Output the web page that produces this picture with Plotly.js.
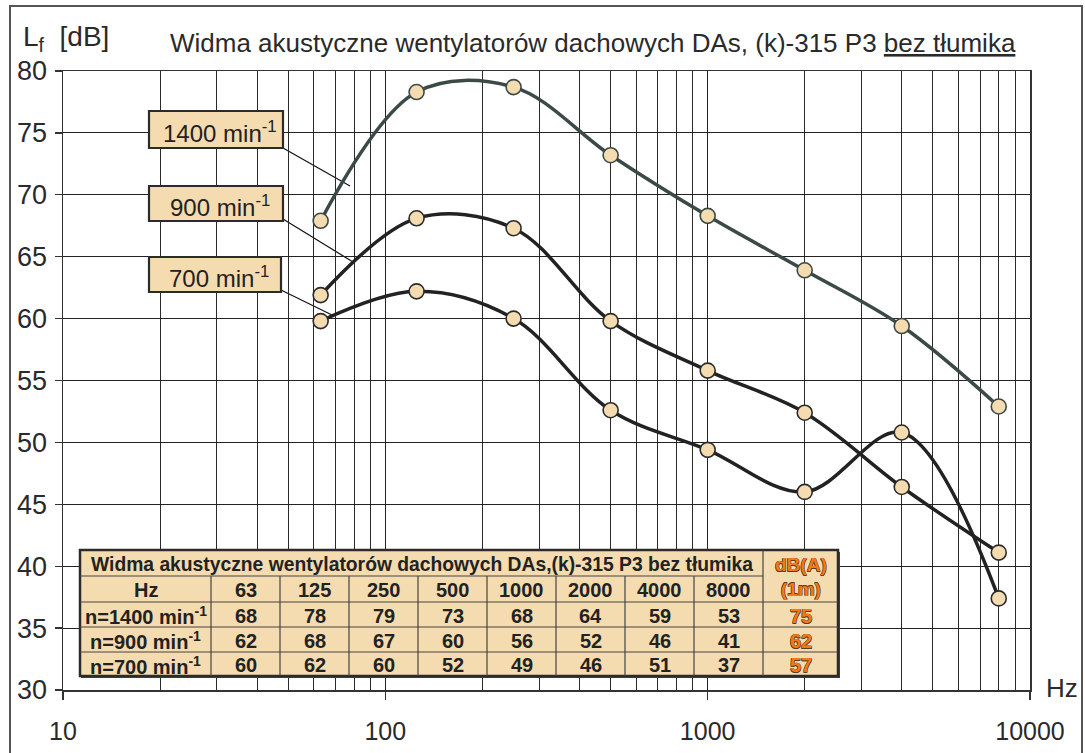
<!DOCTYPE html>
<html>
<head>
<meta charset="utf-8">
<script src="https://cdn.plot.ly/plotly-3.0.1.min.js"></script>
<style>html,body{margin:0;padding:0;background:#fff;}#chart{width:1085px;height:753px;}</style>
</head>
<body>
<div id="chart"></div>
<script>
// ---- data ----
const freqs = [63, 125, 250, 500, 1000, 2000, 4000, 8000];
const series1400 = [67.9, 78.3, 78.7, 73.2, 68.3, 63.9, 59.4, 52.9];
const series900  = [61.9, 68.1, 67.3, 59.8, 55.8, 52.4, 46.4, 41.1];
const series700  = [59.8, 62.2, 60.0, 52.6, 49.4, 46.0, 50.8, 37.4];
const seriesLabels = ['1400 min<sup>-1</sup>', '900 min<sup>-1</sup>', '700 min<sup>-1</sup>'];

const tableTitle = 'Widma akustyczne wentylatorów dachowych DAs,(k)-315 P3 bez tłumika';
const tableFreqLabels = ['63', '125', '250', '500', '1000', '2000', '4000', '8000'];
const tableRowLabels = ['n=1400 min<sup>-1</sup>', 'n=900 min<sup>-1</sup>', 'n=700 min<sup>-1</sup>'];
const table1400 = [68, 78, 79, 73, 68, 64, 59, 53];
const table900  = [62, 68, 67, 60, 56, 52, 46, 41];
const table700  = [60, 62, 60, 52, 49, 46, 51, 37];
const tableDBA  = [75, 62, 57];

const xTickVals = [10, 100, 1000, 10000];
const xTickText = ['10', '100', '1000', '10000'];
const xMinorVals = [20,30,40,50,60,70,80,90,200,300,400,500,600,700,800,900,2000,3000,4000,5000,6000,7000,8000,9000];
const yTickVals = [30, 35, 40, 45, 50, 55, 60, 65, 70, 75, 80];

// ---- layout helpers (pixel -> paper) ----
const PL = 63, PR = 1030, PT = 71, PB = 690;
const W = PR - PL, H = PB - PT;
const px = x => (x - PL) / W;
const py = y => (PB - y) / H;

const FONT = 'Liberation Sans, Arial, Helvetica, sans-serif';
const WHEAT = '#f4dcb0';
const DARK = '#2b2b2b';

const markerStyle = {size: 15, color: WHEAT, line: {color: DARK, width: 1.6}};

const traces = [
  {x: freqs, y: series1400, mode: 'lines+markers', line: {color: '#3c4a47', width: 3.5, shape: 'spline', smoothing: 1.0}, marker: Object.assign({}, markerStyle, {line: {color: '#3c4a47', width: 1.6}}), hoverinfo: 'x+y'},
  {x: freqs, y: series900, mode: 'lines+markers', line: {color: '#222', width: 3.5, shape: 'spline', smoothing: 1.0}, marker: markerStyle, hoverinfo: 'x+y'},
  {x: freqs, y: series700, mode: 'lines+markers', line: {color: '#222', width: 3.5, shape: 'spline', smoothing: 1.0}, marker: markerStyle, hoverinfo: 'x+y'}
];

const shapes = [];
const annotations = [];

// outer frame
shapes.push({type: 'rect', xref: 'paper', yref: 'paper', x0: px(10), x1: px(1082), y0: py(760), y1: py(6), line: {color: '#555', width: 2}, fillcolor: 'rgba(0,0,0,0)', layer: 'below'});

// label boxes + leader lines
const boxes = [
  {x0: 149, x1: 283, y0: 111, y1: 148, lx0: 283, ly0: 148, lx1: 350, ly1: 186},
  {x0: 149, x1: 283, y0: 186, y1: 221, lx0: 283, ly0: 219, lx1: 353, ly1: 262},
  {x0: 149, x1: 281, y0: 257, y1: 292, lx0: 281, ly0: 290, lx1: 332, ly1: 315}
];
boxes.forEach((b, i) => {
  shapes.push({type: 'line', xref: 'paper', yref: 'paper', x0: px(b.lx0), y0: py(b.ly0), x1: px(b.lx1), y1: py(b.ly1), line: {color: '#111', width: 1.2}, layer: 'below'});
  shapes.push({type: 'rect', xref: 'paper', yref: 'paper', x0: px(b.x0), x1: px(b.x1), y0: py(b.y1), y1: py(b.y0), fillcolor: WHEAT, line: {color: DARK, width: 2.2}});
  annotations.push({xref: 'paper', yref: 'paper', x: px((b.x0 + b.x1) / 2 + 4), y: py((b.y0 + b.y1) / 2 + 2), text: seriesLabels[i], showarrow: false, font: {family: FONT, size: 24, color: '#222'}, xanchor: 'center', yanchor: 'middle'});
});

// table
const colE = [80, 211, 280, 349, 418, 487, 556, 625, 694, 763, 838];
const rowE = [550, 576, 602, 627, 652, 676];
shapes.push({type: 'rect', xref: 'paper', yref: 'paper', x0: px(81), x1: px(840), y0: py(678), y1: py(552), fillcolor: '#444', line: {width: 0}});
shapes.push({type: 'rect', xref: 'paper', yref: 'paper', x0: px(colE[0]), x1: px(colE[10]), y0: py(rowE[5]), y1: py(rowE[0]), fillcolor: WHEAT, line: {color: DARK, width: 2.5}});
shapes.push({type: 'line', xref: 'paper', yref: 'paper', x0: px(colE[0]), x1: px(colE[9]), y0: py(rowE[1]), y1: py(rowE[1]), line: {color: '#444', width: 1.2}});
[2, 3, 4].forEach(r => shapes.push({type: 'line', xref: 'paper', yref: 'paper', x0: px(colE[0]), x1: px(colE[10]), y0: py(rowE[r]), y1: py(rowE[r]), line: {color: '#444', width: 1.2}}));
for (let c = 1; c <= 8; c++) shapes.push({type: 'line', xref: 'paper', yref: 'paper', x0: px(colE[c]), x1: px(colE[c]), y0: py(rowE[1]), y1: py(rowE[5]), line: {color: '#444', width: 1.2}});
shapes.push({type: 'line', xref: 'paper', yref: 'paper', x0: px(colE[9]), x1: px(colE[9]), y0: py(rowE[0]), y1: py(rowE[5]), line: {color: '#444', width: 1.2}});

const cellFont = {family: FONT, size: 20, color: '#222', weight: 'bold'};
const orangeFont = {family: FONT, size: 20, color: '#f07a18', weight: 'bold', shadow: '-0.5px -0.5px 0 #5a3a20, 0.5px -0.5px 0 #5a3a20, -0.5px 0.5px 0 #5a3a20, 0.5px 0.5px 0 #5a3a20'};
function cell(c0, c1, r0, r1, text, font) {
  annotations.push({xref: 'paper', yref: 'paper', x: px((colE[c0] + colE[c1]) / 2), y: py((rowE[r0] + rowE[r1]) / 2 + 1), text: '<b>' + text + '</b>', showarrow: false, font: font, xanchor: 'center', yanchor: 'middle'});
}
cell(0, 9, 0, 1, tableTitle, Object.assign({}, cellFont, {size: 19.3}));
cell(9, 10, 0, 2, 'dB(A)<br>(1m)', Object.assign({}, orangeFont, {size: 19}));
cell(0, 1, 1, 2, 'Hz', cellFont);
tableFreqLabels.forEach((f, i) => cell(i + 1, i + 2, 1, 2, f, cellFont));
const tableRows = [table1400, table900, table700];
tableRows.forEach((row, r) => {
  cell(0, 1, r + 2, r + 3, tableRowLabels[r], cellFont);
  row.forEach((v, i) => cell(i + 1, i + 2, r + 2, r + 3, String(v), cellFont));
  cell(9, 10, r + 2, r + 3, String(tableDBA[r]), orangeFont);
});

// titles
annotations.push({xref: 'paper', yref: 'paper', x: px(593), y: py(43), text: 'Widma akustyczne wentylatorów dachowych DAs, (k)-315 P3 <u>bez tłumika</u>', showarrow: false, font: {family: FONT, size: 26, color: '#2a2a2a'}, xanchor: 'center', yanchor: 'middle'});
annotations.push({xref: 'paper', yref: 'paper', x: px(21), y: py(39), text: 'L<sub>f</sub>  [dB]', showarrow: false, font: {family: FONT, size: 28, color: '#2a2a2a'}, xanchor: 'left', yanchor: 'middle'});
annotations.push({xref: 'paper', yref: 'paper', x: px(1044), y: py(688), text: 'Hz', showarrow: false, font: {family: FONT, size: 26, color: '#2a2a2a'}, xanchor: 'left', yanchor: 'middle'});

const layout = {
  width: 1085, height: 753,
  margin: {l: PL, r: 1085 - PR, t: PT, b: 753 - PB},
  paper_bgcolor: '#fff', plot_bgcolor: '#fff',
  showlegend: false,
  font: {family: FONT, color: '#2a2a2a'},
  xaxis: {
    type: 'log', range: [1, 4], tickmode: 'array', tickvals: xTickVals, ticktext: xTickText,
    ticks: 'outside', ticklen: 8, tickwidth: 1.2, tickcolor: '#333',
    showgrid: true, gridcolor: '#222', gridwidth: 1,
    showline: true, linecolor: '#333', linewidth: 1.5, mirror: true,
    tickfont: {family: FONT, size: 25, color: '#2a2a2a'}, ticklabelstandoff: 10,
    minor: {tickmode: 'array', tickvals: xMinorVals, showgrid: true, gridcolor: '#2a2a2a', gridwidth: 1, ticks: ''},
    zeroline: false, fixedrange: true
  },
  yaxis: {
    range: [30, 80], tickmode: 'array', tickvals: yTickVals,
    ticks: 'outside', ticklen: 7, tickwidth: 1.2, tickcolor: '#333',
    showgrid: true, gridcolor: '#222', gridwidth: 1,
    showline: true, linecolor: '#333', linewidth: 1.5, mirror: true,
    tickfont: {family: FONT, size: 27, color: '#2a2a2a'}, ticklabelstandoff: 2,
    zeroline: false, fixedrange: true
  },
  shapes: shapes,
  annotations: annotations
};

Plotly.newPlot('chart', traces, layout, {staticPlot: true, displayModeBar: false});
</script>
</body>
</html>
